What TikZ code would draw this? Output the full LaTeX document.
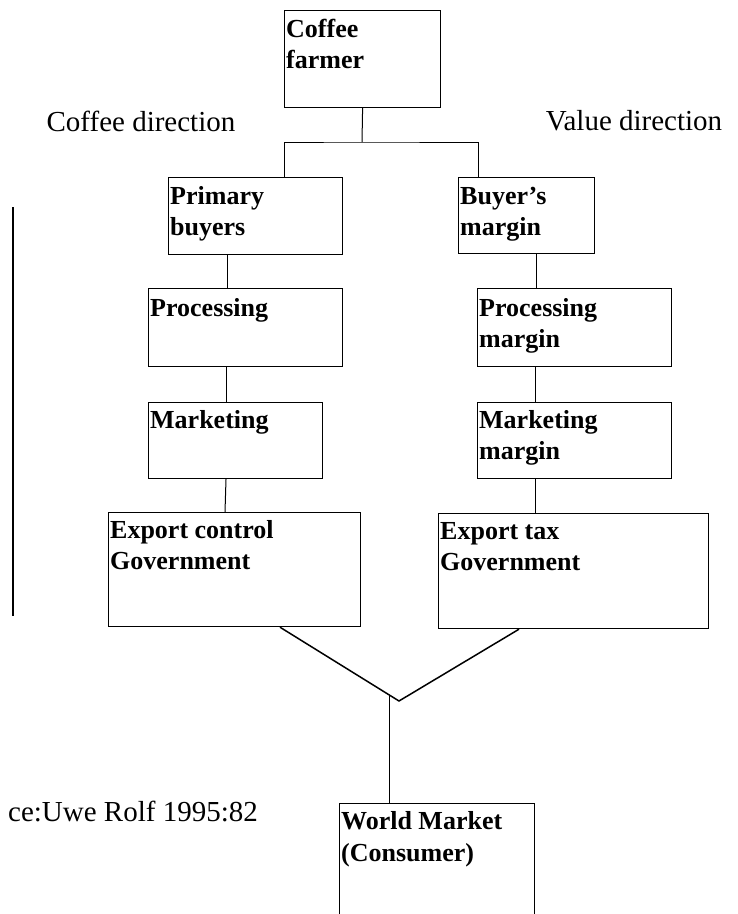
\documentclass[tikz,border=0pt]{standalone}
\usepackage{fontspec}
\setmainfont{Liberation Serif}
\begin{document}
\begin{tikzpicture}[x=1pt,y=-1pt,
  box/.style={draw, line width=1.2pt, rectangle, inner sep=0pt, anchor=north west},
  btxt/.style={anchor=base west, inner sep=0pt, font=\fontsize{26}{31}\selectfont\bfseries},
  wmtxt/.style={anchor=base west, inner sep=0pt, font=\fontsize{26}{32}\selectfont\bfseries},
  lbl/.style={inner sep=0pt, font=\fontsize{29}{34}\selectfont},
  conn/.style={line width=1pt},
  vline/.style={line width=1.5pt},
]
\useasboundingbox (0,0) rectangle (738,914);

% boxes
\node[box, minimum width=156pt, minimum height=97pt]  (farmer) at (284,10) {};
\node[box, minimum width=174pt, minimum height=77pt]  (pb)     at (168,177) {};
\node[box, minimum width=136pt, minimum height=76pt]  (bm)     at (458,177) {};
\node[box, minimum width=194pt, minimum height=78pt]  (proc)   at (148,288) {};
\node[box, minimum width=194pt, minimum height=78pt]  (pm)     at (477,288) {};
\node[box, minimum width=174pt, minimum height=76pt]  (mkt)    at (148,402) {};
\node[box, minimum width=194pt, minimum height=76pt]  (mm)     at (477,402) {};
\node[box, minimum width=252pt, minimum height=114pt] (ec)     at (108,512) {};
\node[box, minimum width=270pt, minimum height=115pt] (et)     at (438,513) {};
\node[box, minimum width=195pt, minimum height=118pt] (wm)     at (339,803) {};

% box texts
\node[btxt] (farmerT) at ([shift={(2,27)}]farmer.north west) {\begin{tabular}[t]{@{}l@{}}Coffee\\farmer\end{tabular}};
\node[btxt] (pbT)     at ([shift={(2,27)}]pb.north west)     {\begin{tabular}[t]{@{}l@{}}Primary\\buyers\end{tabular}};
\node[btxt] (bmT)     at ([shift={(2,27)}]bm.north west)     {\begin{tabular}[t]{@{}l@{}}Buyer’s\\margin\end{tabular}};
\node[btxt] (procT)   at ([shift={(2,28)}]proc.north west)   {Processing};
\node[btxt] (pmT)     at ([shift={(2,28)}]pm.north west)     {\begin{tabular}[t]{@{}l@{}}Processing\\margin\end{tabular}};
\node[btxt] (mktT)    at ([shift={(2,26)}]mkt.north west)    {Marketing};
\node[btxt] (mmT)     at ([shift={(2,26)}]mm.north west)     {\begin{tabular}[t]{@{}l@{}}Marketing\\margin\end{tabular}};
\node[btxt] (ecT)     at ([shift={(2,26)}]ec.north west)     {\begin{tabular}[t]{@{}l@{}}Export control\\Government\end{tabular}};
\node[btxt] (etT)     at ([shift={(2,26)}]et.north west)     {\begin{tabular}[t]{@{}l@{}}Export tax\\Government\end{tabular}};
\node[wmtxt] (wmT)    at ([shift={(2,26)}]wm.north west)     {\begin{tabular}[t]{@{}l@{}}World Market\\(Consumer)\end{tabular}};

% free labels
\node[lbl, anchor=base] (cdir) at (141,131) {Coffee direction};
\node[lbl, anchor=base] (vdir) at (634,130) {Value direction};
\node[lbl, anchor=base east] (src) at (258,821) {ce:Uwe Rolf 1995:82};

% connectors
\coordinate (split) at (362,142);
\draw[conn] (farmer.south) -- (split);
\draw[conn] ([xshift=116pt]pb.north west) |- (split) -| ([xshift=20pt]bm.north west);
\draw[conn] ([xshift=59pt]pb.south west) -- ([xshift=79pt]proc.north west);
\draw[conn] ([xshift=78pt]bm.south west) -- ([xshift=59pt]pm.north west);
\draw[conn] ([xshift=78pt]proc.south west) -- ([xshift=78pt]mkt.north west);
\draw[conn] ([xshift=58pt]pm.south west) -- ([xshift=58pt]mm.north west);
\draw[conn] ([xshift=78pt]mkt.south west) -- ([xshift=117pt]ec.north west);
\draw[conn] ([xshift=58pt]mm.south west) -- ([xshift=97pt]et.north west);

\coordinate (apex) at (399,701);
\draw[vline] ([xshift=172pt]ec.south west) -- (apex) -- ([xshift=81pt]et.south west);
\coordinate (join) at (389,695);
\draw[conn] (join) -- ([xshift=50pt]wm.north west);

% left bar
\coordinate (barTop) at (13,207);
\coordinate (barBot) at (13,616);
\draw[line width=1.2pt] (barTop) -- (barBot);
\end{tikzpicture}
\end{document}
